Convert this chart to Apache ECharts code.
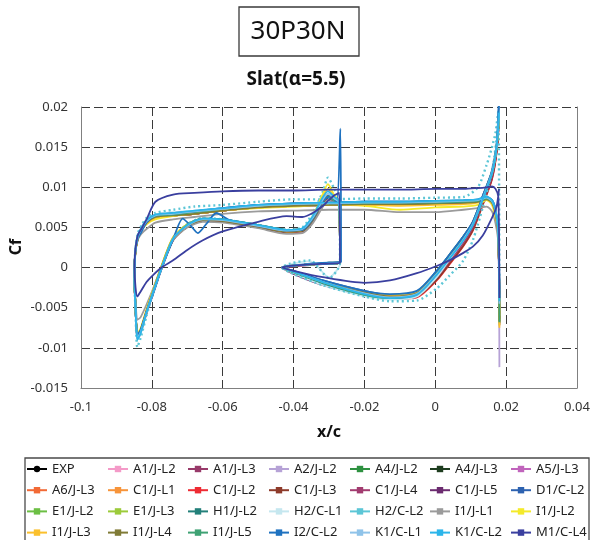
<!DOCTYPE html>
<html>
<head>
<meta charset="utf-8">
<script src="https://cdn.jsdelivr.net/npm/echarts@6/dist/echarts.min.js"></script>
<style>
  html, body { margin: 0; padding: 0; background: #fff; }
  #chart { width: 594px; height: 540px; }
</style>
</head>
<body>
<div id="chart"></div>
<script>
// Surface stations (x/c) along the slat contour:
// upper surface TE -> LE, lower surface LE -> cusp, cusp -> cove, cove -> TE
const xUpper = [0.0181, 0.0178, 0.0170, 0.0160, 0.0145, 0.0120, 0.0080, 0.0000, -0.0100, -0.0200, -0.0300, -0.0400, -0.0500, -0.0600, -0.0680, -0.0740, -0.0790, -0.0815, -0.0830, -0.0840, -0.0847];
const xLower = [-0.0849, -0.0846, -0.0841, -0.0832, -0.0815, -0.0798, -0.0773, -0.0740, -0.0700, -0.0656, -0.0600, -0.0500, -0.0420, -0.0375, -0.0346, -0.0317, -0.0303, -0.0285, -0.0271];
const xCusp = [-0.0269, -0.0300, -0.0354, -0.0410, -0.0432];
const xCove = [-0.0400, -0.0317, -0.0200, -0.0128, -0.0052, 0.0004, 0.0040, 0.0078, 0.0106, 0.0134, 0.0160, 0.0173, 0.0180];
// I2/C-L2 is sampled more finely on the lower surface
const xLowerI2 = [-0.0849, -0.0846, -0.0841, -0.0832, -0.0815, -0.0798, -0.0773, -0.0740, -0.0713, -0.0690, -0.0670, -0.0645, -0.0618, -0.0580, -0.0500, -0.0420, -0.0375, -0.0346, -0.0317, -0.0295, -0.0278, -0.0268];
const xCuspI2 = [-0.0266, -0.0300, -0.0354, -0.0410, -0.0432];

const seriesNames = ['EXP', 'A1/J-L2', 'A1/J-L3', 'A2/J-L2', 'A4/J-L2', 'A4/J-L3', 'A5/J-L3',
  'A6/J-L3', 'C1/J-L1', 'C1/J-L2', 'C1/J-L3', 'C1/J-L4', 'C1/J-L5', 'D1/C-L2',
  'E1/J-L2', 'E1/J-L3', 'H1/J-L2', 'H2/C-L1', 'H2/C-L2', 'I1/J-L1', 'I1/J-L2',
  'I1/J-L3', 'I1/J-L4', 'I1/J-L5', 'I2/C-L2', 'K1/C-L1', 'K1/C-L2', 'M1/C-L4'];
const seriesColors = ['#000000', '#F49AC8', '#983A6A', '#B6A2D6', '#2E9140', '#1E3D1F', '#C064BC',
  '#F26A36', '#F7943A', '#EE2B33', '#8E3B2B', '#A23C70', '#6C2C70', '#2D62B0',
  '#6CBF44', '#9CCB3B', '#23807A', '#C5E7EF', '#5CC6D6', '#9B9B9B', '#F4EA2A',
  '#FBC02D', '#807B36', '#3FA274', '#1F72C0', '#8FC3E9', '#2BB5EA', '#3A3F9F'];

// Skin-friction coefficient Cf at the stations above, one array per case
const cfEXP = [];
const cfA1JL2 = [
  -0.0068, 0.0042, 0.0070, 0.0083, 0.0087, 0.0084, 0.0083, 0.0082, 0.0081, 0.0081, 0.0080, 0.0079, 0.0077, 0.0073, 0.0069, 0.0067, 0.0065, 0.0057, 0.0047, 0.0037, 0.0018,
  -0.0014, -0.0049, -0.0086, -0.0079, -0.0054, -0.0031, 0.0001, 0.0037, 0.0053, 0.0061, 0.0060, 0.0053, 0.0047, 0.0048, 0.0061, 0.0083, 0.0089, 0.0085, 0.0081,
  0.0006, 0.0005, 0.0004, 0.0002, 0.0000,
  -0.0005, -0.0017, -0.0031, -0.0036, -0.0032, -0.0008, 0.0012, 0.0034, 0.0053, 0.0085, 0.0116, 0.0148, 0.0188];
const cfA1JL3 = [
  -0.0072, 0.0038, 0.0066, 0.0081, 0.0085, 0.0082, 0.0081, 0.0080, 0.0079, 0.0079, 0.0078, 0.0077, 0.0075, 0.0071, 0.0067, 0.0065, 0.0063, 0.0056, 0.0046, 0.0036, 0.0017,
  -0.0016, -0.0052, -0.0089, -0.0082, -0.0056, -0.0033, -0.0001, 0.0035, 0.0051, 0.0059, 0.0058, 0.0051, 0.0045, 0.0046, 0.0059, 0.0081, 0.0087, 0.0083, 0.0079,
  0.0006, 0.0005, 0.0003, 0.0001, 0.0000,
  -0.0006, -0.0019, -0.0033, -0.0037, -0.0033, -0.0009, 0.0011, 0.0033, 0.0052, 0.0084, 0.0115, 0.0147, 0.0186];
const cfA2JL2 = [
  -0.0124, 0.0036, 0.0066, 0.0081, 0.0086, 0.0083, 0.0082, 0.0081, 0.0080, 0.0079, 0.0079, 0.0078, 0.0076, 0.0072, 0.0068, 0.0066, 0.0064, 0.0057, 0.0047, 0.0037, 0.0018,
  -0.0015, -0.0050, -0.0086, -0.0079, -0.0055, -0.0032, 0.0000, 0.0036, 0.0052, 0.0060, 0.0059, 0.0052, 0.0046, 0.0047, 0.0060, 0.0082, 0.0088, 0.0084, 0.0080,
  0.0006, 0.0005, 0.0004, 0.0002, 0.0000,
  -0.0005, -0.0018, -0.0031, -0.0035, -0.0031, -0.0007, 0.0013, 0.0035, 0.0054, 0.0086, 0.0117, 0.0149, 0.0189];
const cfA4JL2 = [
  -0.0066, 0.0042, 0.0070, 0.0083, 0.0087, 0.0084, 0.0083, 0.0082, 0.0081, 0.0081, 0.0080, 0.0079, 0.0077, 0.0073, 0.0069, 0.0066, 0.0064, 0.0057, 0.0047, 0.0037, 0.0018,
  -0.0015, -0.0050, -0.0085, -0.0078, -0.0054, -0.0031, 0.0001, 0.0037, 0.0054, 0.0061, 0.0060, 0.0053, 0.0047, 0.0048, 0.0062, 0.0084, 0.0089, 0.0085, 0.0081,
  0.0007, 0.0006, 0.0004, 0.0002, 0.0000,
  -0.0006, -0.0019, -0.0032, -0.0036, -0.0031, -0.0005, 0.0016, 0.0038, 0.0057, 0.0089, 0.0120, 0.0152, 0.0192];
const cfA4JL3 = [
  -0.0069, 0.0039, 0.0067, 0.0081, 0.0085, 0.0082, 0.0081, 0.0081, 0.0080, 0.0079, 0.0079, 0.0077, 0.0075, 0.0071, 0.0067, 0.0065, 0.0063, 0.0056, 0.0046, 0.0036, 0.0017,
  -0.0016, -0.0051, -0.0088, -0.0081, -0.0056, -0.0033, -0.0001, 0.0035, 0.0051, 0.0059, 0.0058, 0.0051, 0.0045, 0.0046, 0.0059, 0.0081, 0.0087, 0.0083, 0.0079,
  0.0006, 0.0005, 0.0004, 0.0002, 0.0000,
  -0.0006, -0.0018, -0.0032, -0.0037, -0.0032, -0.0007, 0.0013, 0.0035, 0.0054, 0.0086, 0.0117, 0.0149, 0.0189];
const cfA5JL3 = [
  -0.0071, 0.0039, 0.0067, 0.0082, 0.0086, 0.0083, 0.0082, 0.0081, 0.0080, 0.0080, 0.0079, 0.0078, 0.0076, 0.0072, 0.0068, 0.0066, 0.0064, 0.0057, 0.0047, 0.0037, 0.0018,
  -0.0015, -0.0050, -0.0087, -0.0080, -0.0055, -0.0032, 0.0000, 0.0036, 0.0052, 0.0060, 0.0059, 0.0052, 0.0046, 0.0047, 0.0060, 0.0082, 0.0088, 0.0084, 0.0080,
  0.0006, 0.0005, 0.0004, 0.0002, 0.0000,
  -0.0006, -0.0019, -0.0033, -0.0038, -0.0034, -0.0010, 0.0010, 0.0032, 0.0051, 0.0083, 0.0114, 0.0146, 0.0186];
const cfA6JL3 = [
  -0.0057, 0.0041, 0.0069, 0.0082, 0.0086, 0.0083, 0.0082, 0.0081, 0.0080, 0.0080, 0.0079, 0.0078, 0.0076, 0.0072, 0.0068, 0.0066, 0.0064, 0.0057, 0.0047, 0.0037, 0.0018,
  -0.0014, -0.0049, -0.0086, -0.0079, -0.0055, -0.0032, 0.0000, 0.0036, 0.0052, 0.0060, 0.0059, 0.0052, 0.0046, 0.0047, 0.0060, 0.0082, 0.0088, 0.0084, 0.0080,
  0.0006, 0.0005, 0.0004, 0.0002, 0.0000,
  -0.0005, -0.0017, -0.0031, -0.0036, -0.0033, -0.0010, 0.0010, 0.0032, 0.0052, 0.0084, 0.0115, 0.0147, 0.0187];
const cfC1JL1 = [
  -0.0055, 0.0040, 0.0068, 0.0082, 0.0086, 0.0083, 0.0082, 0.0081, 0.0080, 0.0080, 0.0079, 0.0078, 0.0075, 0.0071, 0.0067, 0.0065, 0.0063, 0.0056, 0.0046, 0.0036, 0.0017,
  -0.0015, -0.0050, -0.0086, -0.0079, -0.0055, -0.0032, 0.0000, 0.0035, 0.0051, 0.0059, 0.0058, 0.0051, 0.0045, 0.0046, 0.0059, 0.0081, 0.0087, 0.0083, 0.0079,
  0.0006, 0.0005, 0.0004, 0.0002, 0.0000,
  -0.0005, -0.0018, -0.0032, -0.0037, -0.0034, -0.0011, 0.0009, 0.0031, 0.0051, 0.0083, 0.0114, 0.0146, 0.0186];
const cfC1JL2 = [
  -0.0060, 0.0039, 0.0067, 0.0081, 0.0085, 0.0083, 0.0082, 0.0081, 0.0080, 0.0079, 0.0079, 0.0077, 0.0075, 0.0071, 0.0067, 0.0065, 0.0063, 0.0056, 0.0046, 0.0036, 0.0017,
  -0.0016, -0.0052, -0.0084, -0.0080, -0.0057, -0.0034, -0.0002, 0.0034, 0.0051, 0.0059, 0.0058, 0.0050, 0.0044, 0.0045, 0.0058, 0.0080, 0.0086, 0.0082, 0.0078,
  0.0006, 0.0005, 0.0004, 0.0002, 0.0000,
  -0.0006, -0.0019, -0.0034, -0.0039, -0.0037, -0.0016, 0.0004, 0.0026, 0.0046, 0.0078, 0.0110, 0.0143, 0.0184];
const cfC1JL3 = [
  -0.0062, 0.0038, 0.0066, 0.0081, 0.0085, 0.0082, 0.0081, 0.0080, 0.0079, 0.0079, 0.0078, 0.0077, 0.0075, 0.0071, 0.0067, 0.0065, 0.0063, 0.0056, 0.0046, 0.0036, 0.0017,
  -0.0016, -0.0051, -0.0085, -0.0080, -0.0056, -0.0033, -0.0001, 0.0035, 0.0051, 0.0059, 0.0058, 0.0050, 0.0044, 0.0045, 0.0058, 0.0080, 0.0086, 0.0082, 0.0078,
  0.0006, 0.0005, 0.0004, 0.0002, 0.0000,
  -0.0006, -0.0019, -0.0034, -0.0039, -0.0036, -0.0015, 0.0005, 0.0027, 0.0047, 0.0079, 0.0111, 0.0144, 0.0185];
const cfC1JL4 = [
  -0.0064, 0.0040, 0.0068, 0.0082, 0.0086, 0.0083, 0.0082, 0.0081, 0.0080, 0.0080, 0.0079, 0.0078, 0.0076, 0.0072, 0.0068, 0.0066, 0.0064, 0.0057, 0.0047, 0.0037, 0.0018,
  -0.0015, -0.0050, -0.0087, -0.0080, -0.0055, -0.0032, 0.0000, 0.0036, 0.0052, 0.0060, 0.0059, 0.0052, 0.0046, 0.0047, 0.0060, 0.0082, 0.0088, 0.0084, 0.0080,
  0.0006, 0.0005, 0.0004, 0.0002, 0.0000,
  -0.0006, -0.0019, -0.0033, -0.0038, -0.0035, -0.0012, 0.0008, 0.0030, 0.0050, 0.0082, 0.0113, 0.0146, 0.0186];
const cfC1JL5 = [
  -0.0066, 0.0039, 0.0067, 0.0081, 0.0085, 0.0082, 0.0081, 0.0080, 0.0080, 0.0079, 0.0078, 0.0077, 0.0075, 0.0071, 0.0067, 0.0065, 0.0063, 0.0056, 0.0046, 0.0036, 0.0017,
  -0.0016, -0.0051, -0.0087, -0.0080, -0.0056, -0.0033, -0.0001, 0.0035, 0.0051, 0.0059, 0.0058, 0.0051, 0.0045, 0.0046, 0.0059, 0.0081, 0.0087, 0.0083, 0.0079,
  0.0006, 0.0005, 0.0004, 0.0002, 0.0000,
  -0.0008, -0.0022, -0.0034, -0.0037, -0.0033, -0.0009, 0.0011, 0.0033, 0.0053, 0.0085, 0.0116, 0.0148, 0.0188];
const cfD1CL2 = [
  -0.0040, 0.0045, 0.0072, 0.0084, 0.0087, 0.0084, 0.0083, 0.0083, 0.0082, 0.0082, 0.0081, 0.0080, 0.0078, 0.0074, 0.0070, 0.0068, 0.0066, 0.0059, 0.0049, 0.0039, 0.0020,
  -0.0013, -0.0048, -0.0084, -0.0078, -0.0054, -0.0031, 0.0001, 0.0037, 0.0053, 0.0061, 0.0060, 0.0053, 0.0047, 0.0048, 0.0062, 0.0083, 0.0087, 0.0085, 0.0082,
  0.0007, 0.0006, 0.0004, 0.0002, 0.0000,
  -0.0004, -0.0016, -0.0029, -0.0034, -0.0030, -0.0004, 0.0016, 0.0038, 0.0057, 0.0089, 0.0120, 0.0152, 0.0205];
const cfE1JL2 = [
  -0.0063, 0.0041, 0.0069, 0.0083, 0.0087, 0.0084, 0.0083, 0.0082, 0.0081, 0.0081, 0.0080, 0.0079, 0.0077, 0.0073, 0.0069, 0.0067, 0.0065, 0.0058, 0.0048, 0.0038, 0.0019,
  -0.0014, -0.0049, -0.0086, -0.0079, -0.0054, -0.0031, 0.0001, 0.0037, 0.0053, 0.0060, 0.0059, 0.0052, 0.0046, 0.0047, 0.0061, 0.0083, 0.0088, 0.0084, 0.0080,
  0.0006, 0.0005, 0.0004, 0.0002, 0.0000,
  -0.0005, -0.0018, -0.0032, -0.0036, -0.0032, -0.0006, 0.0014, 0.0036, 0.0055, 0.0087, 0.0118, 0.0150, 0.0190];
const cfE1JL3 = [
  -0.0065, 0.0040, 0.0068, 0.0082, 0.0086, 0.0083, 0.0082, 0.0081, 0.0080, 0.0080, 0.0079, 0.0078, 0.0076, 0.0072, 0.0068, 0.0066, 0.0064, 0.0057, 0.0047, 0.0037, 0.0018,
  -0.0015, -0.0050, -0.0086, -0.0079, -0.0055, -0.0032, 0.0000, 0.0036, 0.0052, 0.0060, 0.0059, 0.0052, 0.0046, 0.0047, 0.0060, 0.0082, 0.0088, 0.0084, 0.0080,
  0.0006, 0.0005, 0.0004, 0.0002, 0.0000,
  -0.0005, -0.0018, -0.0031, -0.0036, -0.0032, -0.0007, 0.0013, 0.0035, 0.0054, 0.0086, 0.0117, 0.0149, 0.0189];
const cfH1JL2 = [
  -0.0068, 0.0040, 0.0068, 0.0082, 0.0086, 0.0083, 0.0082, 0.0081, 0.0080, 0.0080, 0.0079, 0.0078, 0.0076, 0.0072, 0.0068, 0.0066, 0.0064, 0.0057, 0.0047, 0.0037, 0.0018,
  -0.0015, -0.0050, -0.0087, -0.0080, -0.0055, -0.0032, 0.0000, 0.0036, 0.0052, 0.0060, 0.0059, 0.0052, 0.0046, 0.0047, 0.0060, 0.0082, 0.0088, 0.0084, 0.0080,
  0.0006, 0.0005, 0.0004, 0.0002, 0.0000,
  -0.0006, -0.0020, -0.0035, -0.0038, -0.0032, -0.0006, 0.0014, 0.0036, 0.0055, 0.0087, 0.0118, 0.0150, 0.0190];
const cfH2CL1 = [
  -0.0060, 0.0043, 0.0071, 0.0084, 0.0087, 0.0084, 0.0083, 0.0082, 0.0082, 0.0081, 0.0080, 0.0079, 0.0077, 0.0074, 0.0071, 0.0069, 0.0066, 0.0059, 0.0049, 0.0039, 0.0020,
  -0.0016, -0.0052, -0.0090, -0.0082, -0.0056, -0.0033, -0.0001, 0.0036, 0.0052, 0.0060, 0.0059, 0.0052, 0.0046, 0.0048, 0.0062, 0.0084, 0.0090, 0.0086, 0.0082,
  0.0005, -0.0012, 0.0008, 0.0004, 0.0000,
  -0.0007, -0.0022, -0.0036, -0.0040, -0.0036, -0.0012, 0.0010, 0.0033, 0.0054, 0.0087, 0.0119, 0.0151, 0.0191];
const cfH2CL2 = [
  -0.0066, 0.0195, 0.0168, 0.0150, 0.0128, 0.0100, 0.0088, 0.0087, 0.0086, 0.0086, 0.0085, 0.0085, 0.0082, 0.0078, 0.0076, 0.0072, 0.0068, 0.0062, 0.0052, 0.0042, 0.0020,
  -0.0016, -0.0055, -0.0099, -0.0088, -0.0060, -0.0034, -0.0001, 0.0036, 0.0054, 0.0062, 0.0060, 0.0053, 0.0047, 0.0050, 0.0068, 0.0095, 0.0112, 0.0098, 0.0085,
  0.0005, -0.0013, 0.0009, 0.0005, 0.0000,
  -0.0008, -0.0022, -0.0036, -0.0042, -0.0041, -0.0026, -0.0010, 0.0008, 0.0034, 0.0075, 0.0120, 0.0160, 0.0200];
const cfI1JL1 = [
  -0.0070, 0.0030, 0.0055, 0.0070, 0.0076, 0.0074, 0.0072, 0.0069, 0.0069, 0.0072, 0.0072, 0.0071, 0.0070, 0.0067, 0.0063, 0.0060, 0.0056, 0.0048, 0.0042, 0.0034, 0.0016,
  -0.0012, -0.0040, -0.0065, -0.0062, -0.0046, -0.0028, 0.0001, 0.0034, 0.0050, 0.0057, 0.0056, 0.0049, 0.0042, 0.0043, 0.0055, 0.0076, 0.0084, 0.0081, 0.0078,
  0.0006, 0.0005, 0.0004, 0.0002, 0.0000,
  -0.0005, -0.0018, -0.0031, -0.0035, -0.0031, -0.0007, 0.0013, 0.0035, 0.0054, 0.0086, 0.0117, 0.0149, 0.0189];
const cfI1JL2 = [
  -0.0072, 0.0050, 0.0062, 0.0078, 0.0084, 0.0078, 0.0076, 0.0075, 0.0072, 0.0077, 0.0078, 0.0076, 0.0074, 0.0071, 0.0067, 0.0064, 0.0060, 0.0054, 0.0046, 0.0036, 0.0016,
  -0.0014, -0.0048, -0.0082, -0.0076, -0.0052, -0.0030, 0.0002, 0.0038, 0.0054, 0.0060, 0.0059, 0.0052, 0.0045, 0.0047, 0.0064, 0.0092, 0.0104, 0.0090, 0.0082,
  0.0006, 0.0005, 0.0004, 0.0002, 0.0000,
  -0.0005, -0.0017, -0.0030, -0.0034, -0.0030, -0.0006, 0.0014, 0.0036, 0.0055, 0.0087, 0.0118, 0.0150, 0.0190];
const cfI1JL3 = [
  -0.0075, 0.0041, 0.0066, 0.0080, 0.0085, 0.0081, 0.0079, 0.0078, 0.0077, 0.0078, 0.0078, 0.0077, 0.0075, 0.0071, 0.0067, 0.0065, 0.0062, 0.0055, 0.0046, 0.0036, 0.0017,
  -0.0014, -0.0049, -0.0084, -0.0078, -0.0053, -0.0031, 0.0001, 0.0037, 0.0053, 0.0060, 0.0059, 0.0052, 0.0045, 0.0047, 0.0062, 0.0088, 0.0098, 0.0088, 0.0081,
  0.0006, 0.0005, 0.0004, 0.0002, 0.0000,
  -0.0005, -0.0017, -0.0030, -0.0035, -0.0031, -0.0006, 0.0014, 0.0036, 0.0055, 0.0087, 0.0118, 0.0150, 0.0190];
const cfI1JL4 = [
  -0.0067, 0.0040, 0.0067, 0.0081, 0.0085, 0.0082, 0.0081, 0.0080, 0.0079, 0.0079, 0.0078, 0.0077, 0.0075, 0.0071, 0.0067, 0.0065, 0.0063, 0.0056, 0.0046, 0.0036, 0.0017,
  -0.0015, -0.0050, -0.0085, -0.0079, -0.0054, -0.0032, 0.0000, 0.0036, 0.0052, 0.0059, 0.0058, 0.0051, 0.0045, 0.0046, 0.0060, 0.0083, 0.0090, 0.0085, 0.0080,
  0.0006, 0.0005, 0.0004, 0.0002, 0.0000,
  -0.0005, -0.0018, -0.0031, -0.0036, -0.0032, -0.0007, 0.0013, 0.0035, 0.0054, 0.0086, 0.0117, 0.0149, 0.0189];
const cfI1JL5 = [
  -0.0068, 0.0041, 0.0069, 0.0082, 0.0086, 0.0083, 0.0082, 0.0081, 0.0081, 0.0080, 0.0080, 0.0079, 0.0077, 0.0073, 0.0069, 0.0066, 0.0064, 0.0057, 0.0047, 0.0037, 0.0018,
  -0.0015, -0.0050, -0.0086, -0.0079, -0.0055, -0.0032, 0.0000, 0.0036, 0.0053, 0.0061, 0.0060, 0.0053, 0.0047, 0.0048, 0.0061, 0.0083, 0.0088, 0.0084, 0.0080,
  0.0006, 0.0005, 0.0004, 0.0002, 0.0000,
  -0.0006, -0.0019, -0.0034, -0.0038, -0.0033, -0.0007, 0.0013, 0.0035, 0.0055, 0.0087, 0.0118, 0.0150, 0.0190];
const cfI2CL2 = [
  -0.0038, 0.0046, 0.0072, 0.0084, 0.0088, 0.0085, 0.0084, 0.0083, 0.0082, 0.0082, 0.0081, 0.0080, 0.0078, 0.0074, 0.0070, 0.0068, 0.0065, 0.0056, 0.0044, 0.0036, 0.0018,
  -0.0014, -0.0048, -0.0084, -0.0078, -0.0055, -0.0035, -0.0002, 0.0035, 0.0061, 0.0052, 0.0043, 0.0055, 0.0068, 0.0059, 0.0052, 0.0046, 0.0047, 0.0061, 0.0083, 0.0090, 0.0082, 0.0173,
  0.0007, 0.0006, 0.0005, 0.0002, 0.0000,
  -0.0004, -0.0016, -0.0029, -0.0033, -0.0029, -0.0004, 0.0016, 0.0038, 0.0057, 0.0089, 0.0120, 0.0153, 0.0215];
const cfK1CL1 = [
  -0.0045, 0.0043, 0.0070, 0.0083, 0.0087, 0.0084, 0.0083, 0.0082, 0.0081, 0.0081, 0.0080, 0.0079, 0.0077, 0.0073, 0.0070, 0.0067, 0.0065, 0.0058, 0.0048, 0.0038, 0.0019,
  -0.0015, -0.0050, -0.0088, -0.0081, -0.0056, -0.0033, -0.0001, 0.0036, 0.0052, 0.0060, 0.0059, 0.0052, 0.0046, 0.0048, 0.0062, 0.0085, 0.0092, 0.0086, 0.0081,
  0.0006, 0.0005, 0.0004, 0.0002, 0.0000,
  -0.0005, -0.0018, -0.0032, -0.0037, -0.0033, -0.0008, 0.0012, 0.0034, 0.0054, 0.0086, 0.0118, 0.0150, 0.0192];
const cfK1CL2 = [
  -0.0042, 0.0044, 0.0071, 0.0084, 0.0088, 0.0085, 0.0084, 0.0083, 0.0082, 0.0082, 0.0081, 0.0080, 0.0078, 0.0074, 0.0071, 0.0068, 0.0066, 0.0059, 0.0049, 0.0039, 0.0019,
  -0.0015, -0.0051, -0.0090, -0.0082, -0.0056, -0.0033, -0.0001, 0.0036, 0.0053, 0.0061, 0.0060, 0.0053, 0.0047, 0.0049, 0.0064, 0.0088, 0.0095, 0.0088, 0.0082,
  0.0006, 0.0005, 0.0004, 0.0002, 0.0000,
  -0.0005, -0.0018, -0.0033, -0.0038, -0.0034, -0.0009, 0.0011, 0.0033, 0.0053, 0.0085, 0.0117, 0.0150, 0.0193];
const cfM1CL4 = [
  -0.0038, 0.0088, 0.0098, 0.0101, 0.0100, 0.0099, 0.0098, 0.0098, 0.0097, 0.0097, 0.0097, 0.0096, 0.0096, 0.0095, 0.0093, 0.0091, 0.0082, 0.0060, 0.0048, 0.0040, 0.0020,
  0.0000, -0.0025, -0.0036, -0.0030, -0.0018, -0.0010, 0.0000, 0.0009, 0.0022, 0.0034, 0.0045, 0.0057, 0.0064, 0.0063, 0.0068, 0.0077, 0.0083, 0.0090, 0.0093,
  0.0006, 0.0005, 0.0004, 0.0002, 0.0000,
  -0.0004, -0.0012, -0.0019, -0.0016, -0.0007, 0.0002, 0.0009, 0.0018, 0.0026, 0.0040, 0.0062, 0.0076, 0.0098];

const cfSeries = [cfEXP, cfA1JL2, cfA1JL3, cfA2JL2, cfA4JL2, cfA4JL3, cfA5JL3,
  cfA6JL3, cfC1JL1, cfC1JL2, cfC1JL3, cfC1JL4, cfC1JL5, cfD1CL2,
  cfE1JL2, cfE1JL3, cfH1JL2, cfH2CL1, cfH2CL2, cfI1JL1, cfI1JL2,
  cfI1JL3, cfI1JL4, cfI1JL5, cfI2CL2, cfK1CL1, cfK1CL2, cfM1CL4];

const xTicksMin = -0.1, xTicksMax = 0.04, xTickStep = 0.02;
const yTicksMin = -0.015, yTicksMax = 0.02, yTickStep = 0.005;

const stationsDefault = xUpper.concat(xLower, xCusp, xCove);
const stationsI2 = xUpper.concat(xLowerI2, xCuspI2, xCove);

const FONT = '"Noto Sans", "Open Sans", sans-serif';

function pairs(name, values) {
  const xs = name === 'I2/C-L2' ? stationsI2 : stationsDefault;
  return values.map((v, i) => [xs[i], v]);
}

const series = seriesNames.map((name, i) => {
  const dotted = name === 'H2/C-L2';
  return {
    name: name,
    type: 'line',
    data: pairs(name, cfSeries[i]),
    showSymbol: false,
    symbol: name === 'EXP' ? 'circle' : 'rect',
    symbolSize: 7,
    smooth: 0.25,
    clip: true,
    lineStyle: {
      color: seriesColors[i],
      width: dotted ? 2.4 : 1.8,
      type: dotted ? [2, 3] : 'solid'
    },
    itemStyle: { color: seriesColors[i] },
    emphasis: { disabled: true }
  };
});

// Legend laid out as 7 aligned columns x 4 rows
const legendCols = 7;
const legendLeft = [26, 107, 187, 268, 349, 429, 510];
const legends = [];
for (let c = 0; c < legendCols; c++) {
  const items = [];
  for (let r = 0; r < 4; r++) {
    const name = seriesNames[r * legendCols + c];
    if (name) items.push({ name: name, lineStyle: { type: 'solid', width: 2 } });
  }
  legends.push({
    orient: 'vertical',
    left: legendLeft[c],
    top: 462,
    padding: 0,
    itemWidth: 20,
    itemHeight: 8,
    itemGap: 7.2,
    selectedMode: false,
    data: items,
    textStyle: { fontFamily: FONT, fontSize: 13, color: '#222', lineHeight: 14 }
  });
}

const chart = echarts.init(document.getElementById('chart'), null, { renderer: 'canvas' });
chart.setOption({
  animation: false,
  backgroundColor: '#fff',
  grid: { left: 81, right: 17, top: 107, bottom: 152, containLabel: false },
  xAxis: {
    type: 'value',
    min: xTicksMin, max: xTicksMax, interval: xTickStep,
    axisLine: { show: true, onZero: false, lineStyle: { color: '#808080', width: 1 } },
    axisTick: { show: false },
    axisLabel: {
      margin: 13, color: '#333', fontFamily: FONT, fontSize: 13,
      formatter: v => String(+v.toFixed(4))
    },
    splitLine: { show: true, lineStyle: { color: '#3a3a3a', type: [9, 4], width: 1 } }
  },
  yAxis: [{
    type: 'value',
    min: yTicksMin, max: yTicksMax, interval: yTickStep,
    axisLine: { show: true, onZero: false, lineStyle: { color: '#808080', width: 1 } },
    axisTick: { show: false },
    axisLabel: {
      margin: 13, color: '#333', fontFamily: FONT, fontSize: 13,
      formatter: v => String(+v.toFixed(4))
    },
    splitLine: { show: true, lineStyle: { color: '#3a3a3a', type: [9, 4], width: 1 } }
  }, {
    type: 'value',
    position: 'right',
    min: yTicksMin, max: yTicksMax, interval: yTickStep,
    axisLine: { show: true, onZero: false, lineStyle: { color: '#808080', width: 1 } },
    axisTick: { show: false },
    axisLabel: { show: false },
    splitLine: { show: false }
  }],
  legend: legends,
  series: series,
  graphic: [
    {
      type: 'rect', z: 10,
      shape: { x: 239, y: 7, width: 120, height: 49 },
      style: { fill: '#fff', stroke: '#3a3a3a', lineWidth: 1.3 }
    },
    {
      type: 'text', z: 11, x: 298, y: 32,
      style: { text: '30P30N', font: '26px ' + FONT, fill: '#111', textAlign: 'center', textVerticalAlign: 'middle' }
    },
    {
      type: 'text', z: 11, x: 296, y: 80,
      style: { text: 'Slat(α=5.5)', font: 'bold 19px ' + FONT, fill: '#111', textAlign: 'center', textVerticalAlign: 'middle' }
    },
    {
      type: 'text', z: 11, x: 16, y: 247, rotation: Math.PI / 2,
      style: { text: 'Cf', font: 'bold 16px ' + FONT, fill: '#111', textAlign: 'center', textVerticalAlign: 'middle' }
    },
    {
      type: 'text', z: 11, x: 329, y: 432,
      style: { text: 'x/c', font: 'bold 16px ' + FONT, fill: '#111', textAlign: 'center', textVerticalAlign: 'middle' }
    },
    {
      type: 'rect', z: -1,
      shape: { x: 25, y: 458, width: 564, height: 100 },
      style: { fill: 'none', stroke: '#4a4a4a', lineWidth: 1.3 }
    }
  ]
});
</script>
</body>
</html>
